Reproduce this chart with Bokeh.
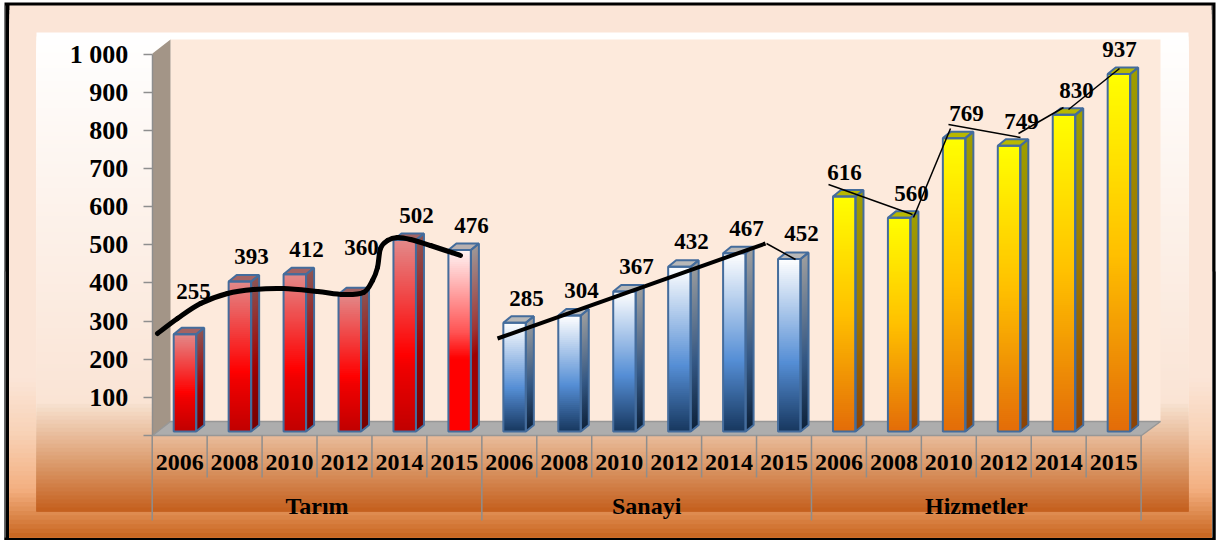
from bokeh.plotting import figure
from bokeh.embed import file_html
from bokeh.resources import INLINE
from bokeh.models import LinearAxis, FixedTicker, Range1d
from bokeh.core.properties import value

years = ["2006", "2008", "2010", "2012", "2014", "2015"]
groups = ["Tarım", "Sanayi", "Hizmetler"]
tarim = [255, 393, 412, 360, 502, 476]
sanayi = [285, 304, 367, 432, 467, 452]
hizmetler = [616, 560, 769, 749, 830, 937]
y_ticks = [0, 100, 200, 300, 400, 500, 600, 700, 800, 900, 1000]
y_labels = ["", "100", "200", "300", "400", "500", "600", "700", "800", "900", "1 000"]

# value-label anchor points and hand-drawn trend lines (page pixels)
label_px_x = [193, 251, 306, 361, 416, 471, 526, 581, 636, 691, 746, 801, 844, 911, 966, 1021, 1076, 1119]
label_px_y = [291, 256, 249, 247, 215, 225, 298, 290, 266, 241, 228, 233, 172, 193, 113, 121, 90, 49]
curve_tarim = [(157, 333), (177, 318), (200, 303), (227, 293), (253, 289), (283, 288), (317, 291), (343, 294),
               (363, 292), (372, 280), (377, 267), (380, 248), (387, 240), (397, 237), (410, 239), (430, 245), (460, 255)]
line_sanayi = [(497, 338), (765, 243)]
line_sanayi_thin = [(766, 243), (795, 259)]
lines_hizmet = [[(828, 184), (912, 214)], [(913, 217), (950, 128)], [(948, 124), (1020, 137)],
                [(1018, 133), (1063, 107)], [(1068, 109), (1119, 68)]]

W, H = 1217, 540
X0, CAT = 151.7, 54.94
Y0, UNIT = 435.0, 0.3815
def dx(px): return (px - X0) / CAT
def dy(py): return (Y0 - py) / UNIT

p = figure(width=W, height=H, output_backend="svg", toolbar_location=None,
           x_axis_type=None, y_axis_type=None, min_border=0,
           x_range=Range1d(dx(0), dx(W)), y_range=Range1d(dy(H), dy(0)),
           margin=(0, 0, 0, 0))
p.outline_line_color = None
p.grid.visible = False
p.background_fill_color = "white"
p.border_fill_color = "white"

def hexrgb(c): return tuple(int(c[i:i + 2], 16) for i in (1, 3, 5))
def ramp(stops, t):
    for (a, ca), (b, cb) in zip(stops, stops[1:]):
        if t <= b:
            f = 0 if b == a else (t - a) / (b - a)
            A, B = hexrgb(ca), hexrgb(cb)
            return "#%02x%02x%02x" % tuple(round(A[k] + (B[k] - A[k]) * f) for k in range(3))
    return stops[-1][1]
def shade(c, f):
    return "#%02x%02x%02x" % tuple(round(v * f) for v in hexrgb(c))

def vgrad(x1, x2, y1, y2, stops, n=None):
    n = n or max(2, int((y2 - y1) / 2))
    xs, ys, cs = [], [], []
    for k in range(n):
        t = k / n
        y = y1 + (y2 - y1) * t
        xs.append([dx(x1), dx(x2), dx(x2), dx(x1)])
        ys.append([dy(y), dy(y), dy(y2), dy(y2)])
        cs.append(ramp(stops, (k + .5) / n))
    p.patches(xs, ys, fill_color=cs, line_color=None)

# frame + panels
vgrad(4, 1215, 2, 540, [(0, "#000000"), (1, "#000000")], 2)
vgrad(4, 5, 5, 537, [(0, "#777777"), (1, "#777777")], 2)
vgrad(1211, 1212, 5, 537, [(0, "#777777"), (1, "#777777")], 2)
vgrad(9, 1211, 5, 537, [(0, "#fbe5d7"), (.70, "#fbe5d7"), (.80, "#f8d3b8"), (.91, "#f3af80"), (1, "#c8651f")], 120)
vgrad(36, 1188, 32, 511, [(0, "#ffffff"), (.77, "#fae4d5"), (.78, "#f6dfcc"), (.88, "#e0a67c"), (1, "#c45f1c")], 120)

# walls and floor
p.patch([dx(170), dx(1160), dx(1160), dx(170)], [dy(39), dy(39), dy(421), dy(421)],
        fill_color="#fdeadc", line_color=None)
p.patch([dx(152), dx(170), dx(170), dx(152)], [dy(53), dy(39), dy(421), dy(435)],
        fill_color="#a39587", line_color=None)
p.patch([dx(152), dx(170), dx(1160), dx(1141)], [dy(435), dy(421), dy(421), dy(435)],
        fill_color="#adadad", line_color="#979797", line_width=1.5)

RED = [(0, "#e28a8a"), (.6, "#ff0000"), (.66, "#f00000"), (1, "#c00000")]
RED_LAST = [(0, "#fff5f5"), (.45, "#ff5555"), (.6, "#ff0000"), (1, "#ff0000")]
BLUE = [(0, "#ffffff"), (.6, "#558ed5"), (1, "#17375e")]
YELLOW = [(0, "#ffff00"), (.5, "#ffc000"), (1, "#e36c09")]
values = tarim + sanayi + hizmetler
palette = [RED] * 5 + [RED_LAST] + [BLUE] * 6 + [YELLOW] * 6
EDGE = "#446c9c"
BASE = 431.0
fx, fy, fc = [], [], []
sx, sy, sc = [], [], []
for i, v in enumerate(values):
    L = X0 + CAT * i + 21.5
    R = L + 22.5
    T = BASE - v * UNIT
    n = int((BASE - T) / 2)
    st = palette[i]
    for k in range(n):
        t = T + (BASE - T) * k / n
        c = ramp(st, (k + .5) / n)
        fx.append([dx(L), dx(R), dx(R), dx(L)])
        fy.append([dy(t), dy(t), dy(BASE), dy(BASE)])
        fc.append(c)
        sx.append([dx(R), dx(R + 8), dx(R + 8), dx(R)])
        sy.append([dy(t), dy(t - 6.5), dy(BASE - 6.5), dy(BASE)])
        sc.append(shade(c, .62))
p.patches(fx, fy, fill_color=fc, line_color=None)
p.patches(sx, sy, fill_color=sc, line_color=None)
ox, oy, otx, oty, otc = [], [], [], [], []
for i, v in enumerate(values):
    L = X0 + CAT * i + 21.5
    R = L + 22.5
    T = BASE - v * UNIT
    otx.append([dx(L), dx(R), dx(R + 8), dx(L + 8)])
    oty.append([dy(T), dy(T), dy(T - 6.5), dy(T - 6.5)])
    otc.append(shade(ramp(palette[i], 0.0), .72))
    ox += [[dx(L), dx(R), dx(R), dx(L)], [dx(R), dx(R + 8), dx(R + 8), dx(R)]]
    oy += [[dy(T), dy(T), dy(BASE), dy(BASE)], [dy(T), dy(T - 6.5), dy(BASE - 6.5), dy(BASE)]]
p.patches(otx, oty, fill_color=otc, line_color=EDGE, line_width=2)
p.patches(ox, oy, fill_color=None, line_color=EDGE, line_width=2)

# category separators
seps = list(range(19))
p.segment([i for i in seps], [dy(435)] * 19, [i for i in seps],
          [dy(520 if i % 6 == 0 else 477) for i in seps], line_color="#8e8e8e", line_width=1.5)

# axes
FONT = "Liberation Serif"
yax = LinearAxis(fixed_location=0, ticker=FixedTicker(ticks=y_ticks), bounds=(0, 1000),
                 major_label_overrides=dict(zip(y_ticks, y_labels)),
                 major_label_text_font=FONT, major_label_text_font_style="bold",
                 major_label_text_font_size="26px", major_label_text_color="black",
                 major_label_standoff=15, major_tick_out=9, major_tick_in=0,
                 major_tick_line_color="#8e8e8e", major_tick_line_width=1.5,
                 minor_tick_line_color=None, axis_line_color="#8e8e8e", axis_line_width=1.5)
p.add_layout(yax, "left")

cat_ticks = [i + .5 for i in range(18)]
xax = LinearAxis(fixed_location=0, ticker=FixedTicker(ticks=cat_ticks), bounds=(0, 18),
                 major_label_overrides={t: years[i % 6] for i, t in enumerate(cat_ticks)},
                 major_label_text_font=FONT, major_label_text_font_style="bold",
                 major_label_text_font_size="24px", major_label_text_color="black",
                 major_label_standoff=13, major_tick_line_color=None, minor_tick_line_color=None,
                 axis_line_color=None)
p.add_layout(xax, "below")

group_ticks = [3, 9, 15]
gax = LinearAxis(fixed_location=0, ticker=FixedTicker(ticks=group_ticks),
                 major_label_overrides=dict(zip(group_ticks, groups)),
                 major_label_text_font=FONT, major_label_text_font_style="bold",
                 major_label_text_font_size="24px", major_label_text_color="black",
                 major_label_standoff=51, major_tick_line_color=None, minor_tick_line_color=None,
                 axis_line_color=None)
p.add_layout(gax, "below")

# hand-drawn trend lines
def draw(pts, w):
    l = p.line([dx(a) for a, b in pts], [dy(b) for a, b in pts], line_color="black", line_width=w,
               line_join="round")
    l.level = "overlay"
def draw_curve(pts, w):
    x0s, y0s, x1s, y1s, c0x, c0y, c1x, c1y = [], [], [], [], [], [], [], []
    P = [pts[0]] + pts + [pts[-1]]
    for i in range(1, len(P) - 2):
        a, b, c, d = P[i - 1], P[i], P[i + 1], P[i + 2]
        x0s.append(dx(b[0])); y0s.append(dy(b[1])); x1s.append(dx(c[0])); y1s.append(dy(c[1]))
        c0x.append(dx(b[0] + (c[0] - a[0]) / 6)); c0y.append(dy(b[1] + (c[1] - a[1]) / 6))
        c1x.append(dx(c[0] - (d[0] - b[0]) / 6)); c1y.append(dy(c[1] - (d[1] - b[1]) / 6))
    l = p.bezier(x0s, y0s, x1s, y1s, c0x, c0y, c1x, c1y, line_color="black", line_width=w, line_cap="round")
    l.level = "overlay"
draw_curve(curve_tarim, 5)
draw(line_sanayi, 4)
draw(line_sanayi_thin, 1.5)
for seg in lines_hizmet:
    draw(seg, 1.5)

# value labels
t = p.text([dx(a) for a in label_px_x], [dy(b) for b in label_px_y], text=[str(v) for v in values],
           text_font=value(FONT), text_font_style="bold", text_font_size="23px", text_color="black",
           text_align="center", text_baseline="middle")
t.level = "overlay"

open("out.html", "w").write(file_html(p, INLINE))
